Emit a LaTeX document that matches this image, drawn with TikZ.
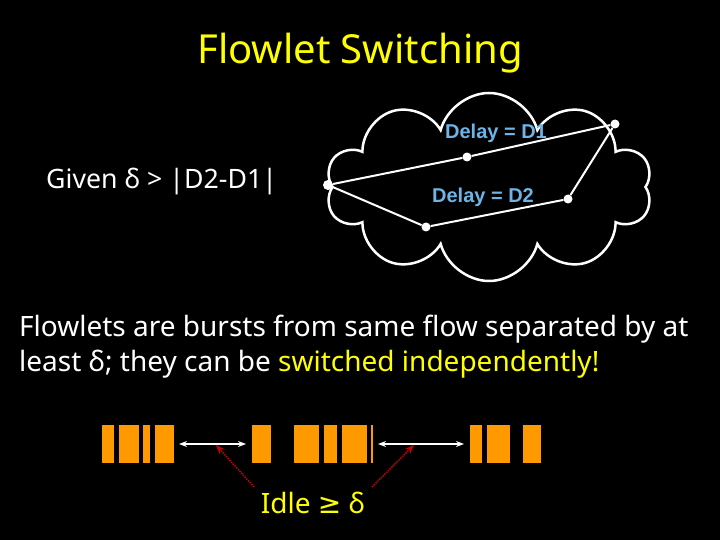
\documentclass[tikz,border=0pt]{standalone}
\usepackage{fontspec}
\setmainfont{Noto Sans}
\newfontfamily\arialf{Liberation Sans}
\newfontfamily\symf{DejaVu Sans}
\usetikzlibrary{shapes.symbols,arrows.meta}
\definecolor{ttlyellow}{RGB}{255,255,0}
\definecolor{dlblue}{RGB}{110,180,230}
\definecolor{barorange}{RGB}{255,153,0}
\definecolor{idlered}{RGB}{200,0,0}
\tikzset{
  pt/.style={circle,fill=white,inner sep=0pt,minimum size=9pt},
  link/.style={white,line width=2pt},
  bar/.style={fill=barorange,draw=none},
  gap/.style={white,line width=1.5pt,{Stealth[length=8pt,width=6pt]}-{Stealth[length=8pt,width=6pt]}},
  redarr/.style={idlered,line width=1.5pt,densely dotted,-{Stealth[length=9pt,width=7pt,fill=idlered]}},
  delay/.style={text=dlblue,font=\arialf\bfseries\fontsize{20}{22}\selectfont,inner sep=0pt},
}
\begin{document}
\begin{tikzpicture}[x=1pt,y=-1pt]
\fill[black] (0,0) rectangle (720,540);
\useasboundingbox (0,0) rectangle (720,540);

\node[text=ttlyellow,font=\fontsize{40}{44}\selectfont] (title) at (360,53) {Flowlet Switching};

\node[text=white,font=\fontsize{26.7}{30}\selectfont,anchor=west,inner sep=0pt] (given) at (46,182) {Given δ > |D2-D1|};

\node[cloud,cloud puffs=10,aspect=1.75,draw=white,line width=2.5pt,minimum width=326pt,minimum height=188pt] (cloud) at (489,187) {};

\node[pt,minimum size=10pt] (pl) at (328,185) {};
\node[pt] (pm) at (467,157) {};
\node[pt] (ptr) at (615,124) {};
\node[pt] (pr) at (568,199) {};
\node[pt] (pb) at (426,227) {};
\draw[link] (pl) -- (pm) -- (ptr);
\draw[link] (pl) -- (pb) -- (pr) -- (ptr);
\node[delay] (d1) at (496,133) {Delay = D1};
\node[delay] (d2) at (483,197) {Delay = D2};

\node[text=white,font=\fontsize{28}{35}\selectfont,anchor=north west,inner sep=0pt,align=left] (body) at (19,315)
{Flowlets are bursts from same flow separated by at\\least δ; they can be \textcolor{ttlyellow}{switched independently!}};

% bars
\foreach \a/\b in {101.7/114,119.3/139.3,143.3/150,155/174,
                   252.3/271,294/318.7,324.3/336.7,342.3/366.7,371/373.3,
                   470/482.3,487.3/510,523.3/540.7}
  \fill[bar] (\a,425) rectangle (\b,463);

\coordinate (g1a) at (179,444);
\coordinate (g1b) at (246,444);
\coordinate (g2a) at (378,444);
\coordinate (g2b) at (464,444);
\draw[gap] (g1a) -- (g1b);
\draw[gap] (g2a) -- (g2b);

\node[text=ttlyellow,font=\fontsize{28}{30}\selectfont] (idle) at (313,503) {Idle {\symf ≥} δ};
\coordinate (r1) at (254,487);
\coordinate (r1t) at (216,445);
\coordinate (r2) at (372,487);
\coordinate (r2t) at (414,445);
\draw[redarr] (r1) -- (r1t);
\draw[redarr] (r2) -- (r2t);
\end{tikzpicture}
\end{document}
